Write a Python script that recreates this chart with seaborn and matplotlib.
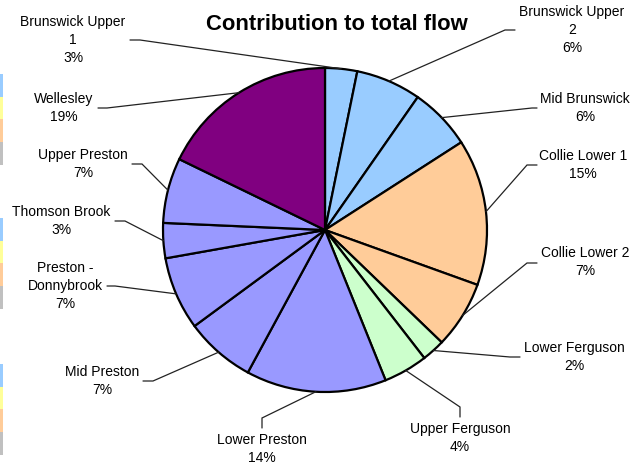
import numpy as np
import matplotlib.pyplot as plt
import seaborn as sns
from matplotlib.patches import Rectangle

# ── DATA ─────────────────────────────────────────────
names = ["Brunswick Upper\n1", "Brunswick Upper\n2", "Mid Brunswick",
         "Collie Lower 1", "Collie Lower 2", "Lower Ferguson",
         "Upper Ferguson", "Lower Preston", "Mid Preston",
         "Preston -\nDonnybrook", "Thomson Brook", "Upper Preston",
         "Wellesley"]
# shares
values = [3.2, 6.5, 6.2, 14.6, 6.7, 2.3, 4.4, 14.0, 7.0, 7.3, 3.5, 6.5, 17.8]
# percentages as printed on the chart
pct_labels = ["3%", "6%", "6%", "15%", "7%", "2%", "4%", "14%", "7%", "7%",
              "3%", "7%", "19%"]
groups = ["Brunswick"] * 3 + ["Collie"] * 2 + ["Ferguson"] * 2 + \
         ["Preston"] * 5 + ["Wellesley"]

# ── STYLE / LAYOUT ───────────────────────────────────
W, H = 634, 465
group_colors = {"Brunswick": "#99CCFF", "Collie": "#FFCC99",
                "Ferguson": "#CCFFCC", "Preston": "#9999FF",
                "Wellesley": "#800080"}
# label centre, leader start, leader elbow (pixel coords, y down)
text_pos = [(73, 40), (572, 30), (585, 108), (583, 165), (585, 262),
            (574, 357), (460, 438), (262, 449), (102, 381), (65, 286),
            (61, 221), (83, 164), (64, 108)]
lead_start = [(130, 40), (515, 30), (537, 108), (537, 165), (537, 263),
              (520, 357), (460, 417), (262, 428), (143, 381), (107, 286),
              (115, 221), (132, 164), (98, 108)]
lead_elbow = [(140, 40), (505, 30), (532, 108), (527, 165), (527, 263),
              (510, 357), (460, 407), (262, 418), (153, 381), (115, 286),
              (125, 221), (142, 164), (107, 108)]

sns.set_theme(style="white")
plt.rcParams["font.family"] = ["Liberation Sans", "DejaVu Sans"]


def px(x, y):
    """Pixel coords (y down) -> data coords (y up)."""
    return x, H - y


fig = plt.figure(figsize=(W / 100, H / 100), dpi=100)
ax = fig.add_axes([0, 0, 1, 1])

center = px(325, 230)
radius = 162
wedges, _ = ax.pie(values, colors=[group_colors[g] for g in groups],
                   startangle=90, counterclock=False, center=center,
                   radius=radius,
                   wedgeprops=dict(edgecolor="black", linewidth=1.6))
ax.set_xlim(0, W)
ax.set_ylim(0, H)
ax.set_aspect("equal")
ax.axis("off")

# labels with Excel-style leader lines
for w, name, pct, tp, ls, le in zip(wedges, names, pct_labels, text_pos,
                                    lead_start, lead_elbow):
    mid = np.deg2rad((w.theta1 + w.theta2) / 2)
    ex = center[0] + radius * np.cos(mid)
    ey = center[1] + radius * np.sin(mid)
    sx, sy = px(*ls)
    bx, by = px(*le)
    ax.plot([sx, bx, ex], [sy, by, ey], color="#222222", lw=0.9,
            solid_joinstyle="miter")
    ax.text(*px(*tp), f"{name}\n{pct}", ha="center", va="center",
            fontsize=10, linespacing=1.35, color="black")

fig.text(337 / W, 1 - 25 / H, "Contribution to total flow", ha="center",
         va="center", fontsize=15.8, fontweight="bold", color="black")

# clipped legend swatches at the left edge
swatch_colors = ["#99CCFF", "#FFFF99", "#FFCC99", "#C0C0C0"]
for top in (74, 218, 364):
    for i, c in enumerate(swatch_colors):
        y0 = top + i * 22.75
        ax.add_patch(Rectangle(px(0, y0 + 22.75), 3, 22.75, color=c,
                               lw=0, clip_on=False))

fig.savefig("out.png", dpi=100)
